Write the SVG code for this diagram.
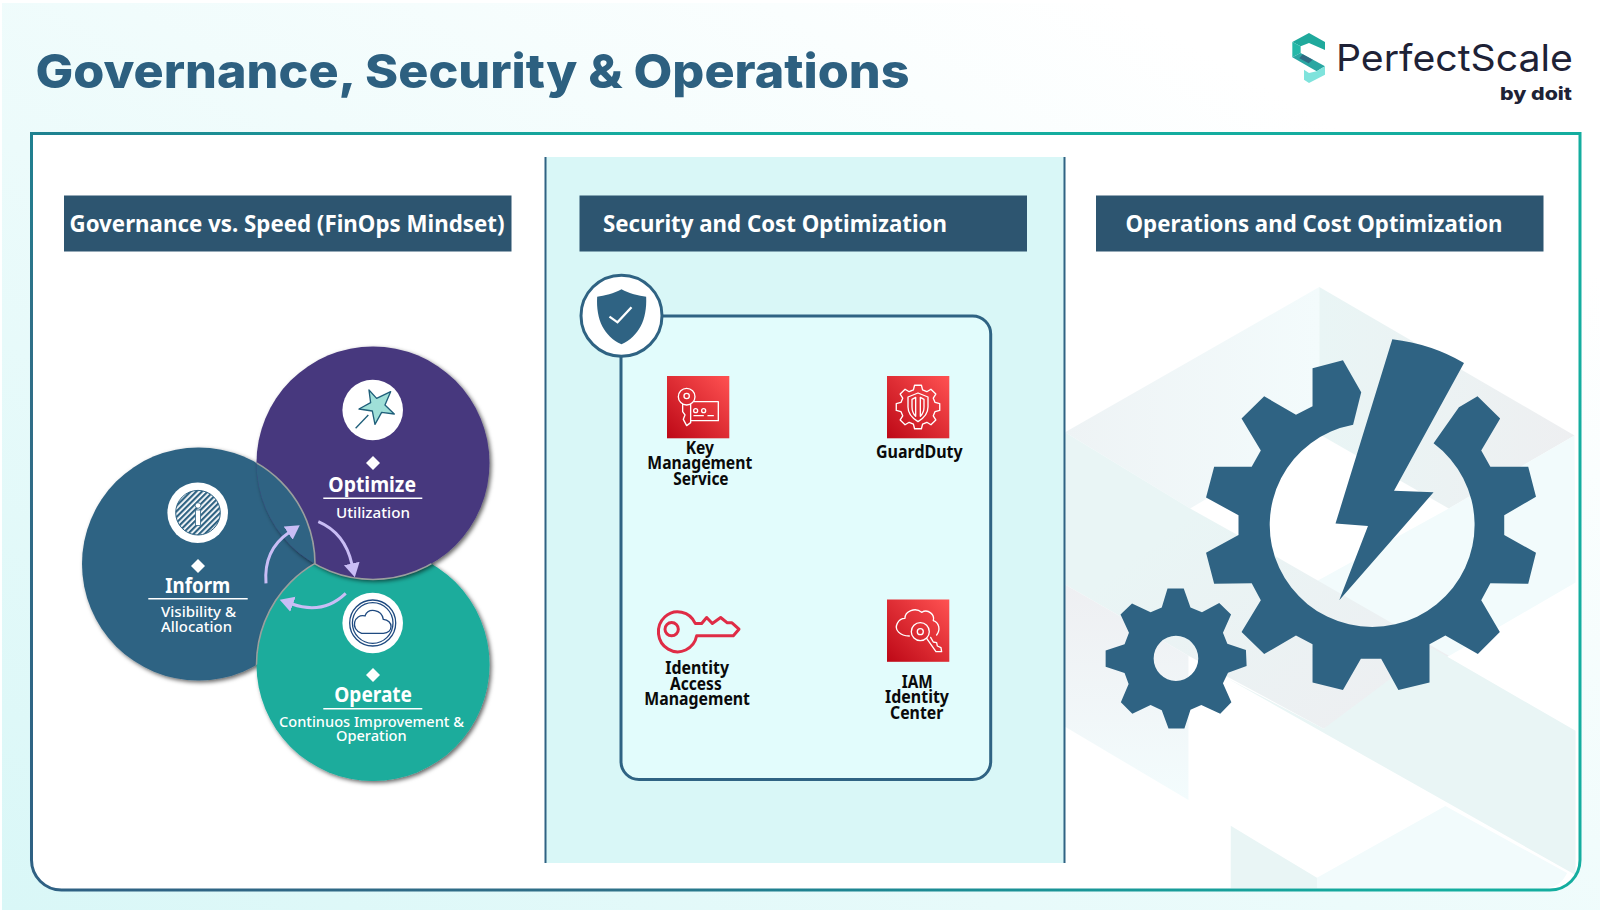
<svg xmlns="http://www.w3.org/2000/svg" width="1600" height="910" viewBox="0 0 1600 910">
<style>
.hd{font-family:"Noto Sans","Open Sans",sans-serif;font-weight:700;font-size:23px;fill:#fff}
.bar{fill:#2d5570}
.lb{font-family:"Noto Sans","Open Sans",sans-serif;font-weight:700;font-size:17px;fill:#0a0a0a}
.tt{font-family:"Noto Sans","Open Sans",sans-serif;font-weight:700;font-size:21px;fill:#fff}
.st{font-family:"Noto Sans","Open Sans",sans-serif;font-weight:500;font-size:14.500px;fill:#fff}
.rule{stroke:#fff;stroke-width:1.4}
.ic{fill:none;stroke:#fff;stroke-width:4;stroke-linejoin:round;stroke-linecap:round}
.red{fill:url(#awsRed)}
.arr{fill:none;stroke:#c9bdf5;stroke-width:3}
.rim{fill:none;stroke:#9a9f9e;stroke-width:1.600}
</style>
<defs>
<linearGradient id="pageBg" x1="1" y1="0" x2="0" y2="1"><stop offset="0.15" stop-color="#ffffff"/><stop offset="1" stop-color="#d9f7f7"/></linearGradient>
<linearGradient id="frameStroke" gradientUnits="userSpaceOnUse" x1="30" y1="890" x2="1180" y2="-260"><stop offset="0" stop-color="#2f6083"/><stop offset="0.25" stop-color="#2f7088"/><stop offset="0.33" stop-color="#1f8190"/><stop offset="0.6" stop-color="#14ad9f"/><stop offset="1" stop-color="#14ad9f"/></linearGradient>
<linearGradient id="awsRed" x1="0" y1="1" x2="1" y2="0"><stop offset="0" stop-color="#bd0816"/><stop offset="1" stop-color="#ff5252"/></linearGradient>
<linearGradient id="facetA" x1="0" y1="0" x2="1" y2="0"><stop offset="0" stop-color="#eef3f5"/><stop offset="1" stop-color="#f3fbfc"/></linearGradient>
<linearGradient id="facetB" x1="0" y1="0" x2="1" y2="0"><stop offset="0" stop-color="#e9f5f5"/><stop offset="1" stop-color="#eeeff1"/></linearGradient>
<linearGradient id="facetC" x1="0" y1="0" x2="0" y2="1"><stop offset="0" stop-color="#eeeff2"/><stop offset="1" stop-color="#f3fcfd"/></linearGradient>
<linearGradient id="facetD" x1="0" y1="0" x2="1" y2="1"><stop offset="0.3" stop-color="#e9f5f5"/><stop offset="1" stop-color="#eeeef1"/></linearGradient>
<pattern id="hatch" patternUnits="userSpaceOnUse" width="4" height="4" patternTransform="rotate(-45 197 512)"><rect width="4" height="4" fill="#fff"/><rect width="4" height="2.200" fill="#2f6383"/></pattern>
<filter id="sh" x="-15%" y="-15%" width="130%" height="130%"><feDropShadow dx="2" dy="2" stdDeviation="2" flood-color="#000" flood-opacity="0.6"/></filter>
<clipPath id="optClip"><circle cx="373" cy="463" r="116.500"/></clipPath>
<clipPath id="opeClip"><circle cx="373" cy="664.500" r="116.500"/></clipPath>
<clipPath id="infClip"><circle cx="198.500" cy="564" r="116.500"/></clipPath>
<marker id="head" markerUnits="userSpaceOnUse" markerWidth="16" markerHeight="18" refX="1" refY="8" orient="auto"><path d="M0 0L14 8L0 16Z" fill="#c9bdf5"/></marker>
</defs>

<rect width="1600" height="910" fill="#fff"/>
<rect x="2" y="3" width="1598" height="907" fill="url(#pageBg)"/>

<text id="title" x="35.500" y="88" font-family="Inter,'Noto Sans',sans-serif" font-weight="800" font-size="47" fill="#2d6080" textLength="874" lengthAdjust="spacingAndGlyphs">Governance, Security &amp; Operations</text>

<g id="logo">
<g transform="translate(1270 20) scale(.3333)">
<path d="M67 66L117 39L165 66V90L117 69L92 79Z" fill="#1fa99c"/>
<path d="M67 66L92 79V99L67 112Z" fill="#25b8a8"/>
<path d="M67 112L92 99L165 139L140 154Z" fill="#2aa6a2"/>
<path d="M98 103L128 119L116 130L88 115Z" fill="#2f6a83"/>
<path d="M165 139L140 154L117 159L102 149V179L117 189L165 164Z" fill="#7fe3dc"/>
</g>
<text x="1336" y="71" font-family="Inter,'Noto Sans',sans-serif" font-size="37" fill="#1e2236" textLength="237" lengthAdjust="spacingAndGlyphs">PerfectScale</text>
<text x="1500" y="100" font-family="Inter,'Noto Sans',sans-serif" font-weight="800" font-size="18" fill="#1e2236" textLength="72" lengthAdjust="spacingAndGlyphs">by doit</text>
</g>

<path id="frame" d="M31.500 133.500H1580V860A30 30 0 0 1 1550 890H61.500A30 30 0 0 1 31.500 860Z" fill="#fff" stroke="none"/>

<g id="backdrop" transform="translate(1060 280) scale(.33807 .39541)">
<path d="M15 385L767 18V390L430 555L385 578Z" fill="url(#facetA)"/>
<path d="M767 18L1522 393L1150 578L767 390Z" fill="url(#facetB)"/>
<path d="M1522 393L1525 765L780 1135L700 790L1150 578Z" fill="#f2fbfc"/>
<path d="M15 385L385 578L640 700L1150 950L780 1135L380 950L15 770Z" fill="url(#facetD)"/>
<path d="M15 770L380 950V1315L15 1130Z" fill="url(#facetC)"/>
<path d="M490 1005L780 1135L1100 930L1525 1140V1505Z" fill="#e9f5f5"/>
<path d="M760 1512L1140 1330L1500 1500Q1480 1535 1440 1538H760Z" fill="#f2fbfc"/>
<path d="M505 1380L760 1512V1538H505Z" fill="#e9f5f5"/>
</g>

<path id="frameline" d="M31.500 133.500H1580V860A30 30 0 0 1 1550 890H61.500A30 30 0 0 1 31.500 860Z" fill="none" stroke="url(#frameStroke)" stroke-width="3"/>

<g id="panel-security">
<rect x="545.500" y="157" width="519" height="706" fill="#d9f7f7"/>
<path d="M545.500 157V863M1064.500 157V863" stroke="#2f6383" stroke-width="2" fill="none"/>
</g>

<g id="header-governance"><rect class="bar" x="64" y="195.500" width="447.500" height="56"/><text class="hd" x="69.500" y="231.500" textLength="435" lengthAdjust="spacingAndGlyphs">Governance vs. Speed (FinOps Mindset)</text></g>
<g id="header-security"><rect class="bar" x="579.500" y="195.500" width="447.500" height="56"/><text class="hd" x="603" y="231.500" textLength="344" lengthAdjust="spacingAndGlyphs">Security and Cost Optimization</text></g>
<g id="header-operations"><rect class="bar" x="1096" y="195.500" width="447.500" height="56"/><text class="hd" x="1125.500" y="231.500" textLength="377" lengthAdjust="spacingAndGlyphs">Operations and Cost Optimization</text></g>

<g id="circle-inform-base"><circle cx="198.500" cy="564" r="116.500" fill="#2f6383" filter="url(#sh)"/></g>
<g id="circle-operate-base"><circle cx="373" cy="664.500" r="116.500" fill="#1aac9c" filter="url(#sh)"/></g>
<g id="circle-optimize-base"><circle cx="373" cy="463" r="116.500" fill="#47387e" filter="url(#sh)"/></g>
<g clip-path="url(#optClip)"><circle cx="198.500" cy="564" r="116.500" fill="#2f6383"/><circle class="rim" cx="198.500" cy="564" r="116.500"/></g>
<g clip-path="url(#infClip)"><circle class="rim" cx="373" cy="664.500" r="116.500"/></g>
<g clip-path="url(#opeClip)"><circle class="rim" cx="373" cy="463" r="116.500"/></g>

<g id="node-optimize">
<circle cx="372.700" cy="410" r="30.300" fill="#fff"/>
<g transform="translate(60 330) scale(.3333)">
<path d="M927 180L950 205L992 185L975 225L1003 252L965 247L945 283L937 243L897 237L932 218Z" fill="#9fe0d8" stroke="#1f5f7a" stroke-width="4" stroke-linejoin="round"/>
<path d="M887 295L925 255" stroke="#1f5f7a" stroke-width="4" fill="none"/>
</g>
<path d="M373 456L380 463L373 470L366 463Z" fill="#fff"/>
<text class="tt" x="328.300" y="491.700" textLength="87.700" lengthAdjust="spacingAndGlyphs">Optimize</text>
<path class="rule" d="M323.300 498.300H422.300"/>
<text class="st" x="336" y="518.300" textLength="74" lengthAdjust="spacingAndGlyphs">Utilization</text>
</g>

<g id="node-inform">
<circle cx="197.700" cy="512.700" r="30.300" fill="#fff"/>
<circle cx="198" cy="512.700" r="22.300" fill="url(#hatch)" stroke="#2f6383" stroke-width="1"/>
<rect x="195.500" y="510" width="5" height="15.500" fill="#fff" stroke="#2f6383" stroke-width=".8"/>
<circle cx="198" cy="505.500" r="2.800" fill="#fff" stroke="#2f6383" stroke-width=".8"/>
<path d="M198 559L205 566L198 573L191 566Z" fill="#fff"/>
<text class="tt" x="165.300" y="593.300" textLength="65" lengthAdjust="spacingAndGlyphs">Inform</text>
<path class="rule" d="M148.300 598.700H247.700"/>
<text class="st" x="161" y="617.300" textLength="75" lengthAdjust="spacingAndGlyphs">Visibility &amp;</text>
<text class="st" x="161" y="631.700" textLength="71" lengthAdjust="spacingAndGlyphs">Allocation</text>
</g>

<g id="node-operate">
<circle cx="372.700" cy="623" r="30.300" fill="#fff"/>
<circle cx="372.700" cy="623" r="23" fill="none" stroke="#1f4a80" stroke-width="1.300"/>
<circle cx="372.700" cy="623" r="20.300" fill="none" stroke="#1f4a80" stroke-width="1.300"/>
<g transform="translate(60 330) scale(.3333)"><path d="M905 910H970C1002 908 1000 870 970 868C965 838 925 832 915 858C883 850 868 898 905 910Z" fill="none" stroke="#1f4a80" stroke-width="4"/></g>
<path d="M373 668L380 675L373 682L366 675Z" fill="#fff"/>
<text class="tt" x="334.300" y="702" textLength="77.700" lengthAdjust="spacingAndGlyphs">Operate</text>
<path class="rule" d="M323.300 708.700H422.300"/>
<text class="st" x="279" y="726.700" textLength="185" lengthAdjust="spacingAndGlyphs">Continuos Improvement &amp;</text>
<text class="st" x="336" y="741" textLength="70.700" lengthAdjust="spacingAndGlyphs">Operation</text>
</g>

<g id="connectors">
<path class="arr" d="M266 583.300Q263.300 550 289 532.500" marker-end="url(#head)"/>
<path class="arr" d="M318.300 521.700Q345 533 352 564.500" marker-end="url(#head)"/>
<path class="arr" d="M345.700 593.300Q323 615 292 604" marker-end="url(#head)"/>
</g>

<g id="card-services">
<rect x="621" y="316" width="369.700" height="463.500" rx="18" fill="#e2fcfc" stroke="#2f6383" stroke-width="3"/>
<circle cx="621.500" cy="315.700" r="40.500" fill="#fff" stroke="#2f6383" stroke-width="3"/>
<g transform="translate(570.500 260) scale(.3333)">
<path d="M153 88C175 100 205 108 227 110C230 180 205 228 153 253C101 228 76 180 80 110C101 108 131 100 153 88Z" fill="#2f6383"/>
<path d="M117 170L141 187L183 142" fill="none" stroke="#fff" stroke-width="7"/>
</g>
</g>

<g id="node-kms">
<rect class="red" x="667" y="376" width="62.300" height="62.300"/>
<g class="ic" transform="translate(570 260) scale(.3333)">
<circle cx="350" cy="410" r="25"/><circle cx="350" cy="408" r="8"/>
<path d="M338 433V455L345 465L340 478L350 497L362 488V433"/>
<path d="M372 425H445V482H362"/>
<circle cx="377" cy="452" r="6"/><circle cx="401" cy="452" r="6"/>
<path d="M372 467H400M414 467H430"/>
</g>
<text class="lb" x="685.700" y="453.500" textLength="28.300" lengthAdjust="spacingAndGlyphs">Key</text>
<text class="lb" x="647.300" y="469" textLength="105" lengthAdjust="spacingAndGlyphs">Management</text>
<text class="lb" x="673.300" y="484.500" textLength="55.300" lengthAdjust="spacingAndGlyphs">Service</text>
</g>

<g id="node-guardduty">
<rect class="red" x="887" y="376" width="62.300" height="62.300"/>
<g class="ic" transform="translate(918 407) scale(.3333)">
<path d="M-13.700-51.200L-10.300-65.200H10.300L13.700-51.200L26.500-45.900L38.800-53.400L53.400-38.800L45.900-26.500L51.200-13.700L65.200-10.300V10.300L51.200 13.700L45.900 26.500L53.400 38.800L38.800 53.400L26.500 45.900L13.700 51.200L10.300 65.200H-10.300L-13.700 51.200L-26.500 45.900L-38.800 53.400L-53.400 38.800L-45.900 26.500L-51.200 13.700L-65.200 10.300V-10.300L-51.200-13.700L-45.900-26.500L-53.400-38.800L-38.800-53.400L-26.500-45.900Z"/>
<path d="M0-42L30-30V0C30 25 10 38 0 44C-10 38-30 25-30 0V-30Z"/>
<path d="M-7-29V28C-15 20-18 12-18 0V-23ZM7-29V28C15 20 18 12 18 0V-23Z"/>
</g>
<text class="lb" x="876" y="458.300" textLength="86.700" lengthAdjust="spacingAndGlyphs">GuardDuty</text>
</g>

<g id="node-iam">
<g transform="translate(620 578.500) scale(.3333)">
<path d="M226 135H245L260 117L277 135L302 117L322 133H336L357 152L340 172H230A58 60 0 1 1 226 135Z" fill="none" stroke="#df2c46" stroke-width="9" stroke-linejoin="round"/>
<circle cx="155" cy="152" r="20" fill="none" stroke="#df2c46" stroke-width="9"/>
</g>
<text class="lb" x="665.300" y="674.300" textLength="63.700" lengthAdjust="spacingAndGlyphs">Identity</text>
<text class="lb" x="670" y="689.800" textLength="51.700" lengthAdjust="spacingAndGlyphs">Access</text>
<text class="lb" x="644.300" y="705.300" textLength="105.700" lengthAdjust="spacingAndGlyphs">Management</text>
</g>

<g id="node-iam-identity-center">
<rect class="red" x="887" y="599.500" width="62.300" height="62.300"/>
<g class="ic" transform="translate(620 580) scale(.3333)">
<path d="M868 168C840 168 822 150 832 130C838 118 848 115 855 115C855 95 885 80 905 97C925 85 945 105 940 122C958 128 962 150 950 165"/>
<circle cx="901" cy="155" r="27"/><circle cx="901" cy="155" r="9"/>
<path d="M920 175L948 215H965L963 203L952 198L950 188L940 186L932 172"/>
</g>
<text class="lb" x="901.700" y="687.500" textLength="31" lengthAdjust="spacingAndGlyphs">IAM</text>
<text class="lb" x="885" y="703" textLength="64" lengthAdjust="spacingAndGlyphs">Identity</text>
<text class="lb" x="890" y="718.500" textLength="53.300" lengthAdjust="spacingAndGlyphs">Center</text>
</g>

<g id="gears" transform="translate(1060 280) scale(.33807 .39541)" fill="#2f6383">
<path id="gear-large" d="M867 366A303 258 0 1 0 1105 413L1180 322L1235 294L1302 350L1246 431L1273 472H1385L1408 548L1314 595V645L1408 690L1385 768L1273 767L1246 810L1301 890L1236 946L1140 899L1093 921V1018L1001 1037L950 958H890L837 1037L747 1018V921L698 899L604 946L537 890L594 810L567 767L456 768L432 690L528 645V595L432 550L456 472H567L594 431L537 350L604 294L698 341L747 319V223L837 203L891 284Z"/>
<path id="bolt" d="M983 150Q1100 162 1195 210L988 533L1105 537L826 810L911 622L815 616Z"/>
<path id="gear-small" fill-rule="evenodd" d="M318 780H366L386 828L420 840L471 817L506 846L482 892L495 920L550 936L552 976L497 993L482 1020L507 1068L474 1097L418 1075L386 1087L368 1134H321L301 1088L268 1075L214 1097L180 1068L203 1022L191 994L135 978V937L191 921L204 892L179 846L213 818L268 840L301 828ZM277 957A66 57 0 1 0 409 957A66 57 0 1 0 277 957Z"/>
</g>
</svg>
